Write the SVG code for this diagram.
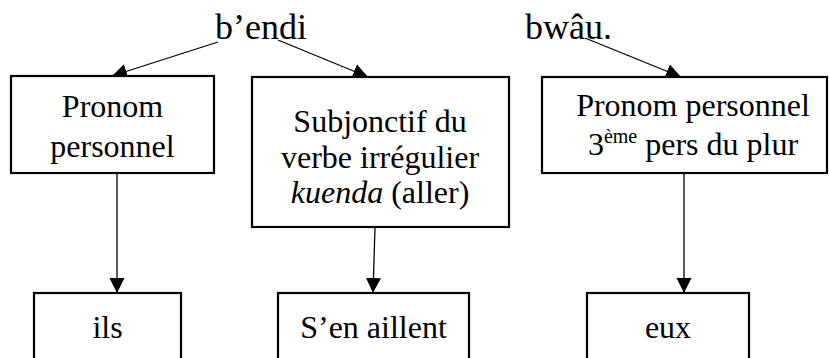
<svg xmlns="http://www.w3.org/2000/svg" width="829" height="358" viewBox="0 0 829 358">
<style>
  .box { fill: #ffffff; stroke: #000000; stroke-width: 2.2; }
  .t { font-family: 'Liberation Serif', 'Times New Roman', serif; font-size: 32px; fill: #000000; text-anchor: middle; }
  .w { font-family: 'Liberation Serif', 'Times New Roman', serif; font-size: 36px; fill: #000000; }
  .c { fill: none; stroke: #000000; stroke-width: 1.3; marker-end: url(#ah); }
</style>
<defs>
  <marker id="ah" markerUnits="userSpaceOnUse" markerWidth="16" markerHeight="16" refX="15" refY="7.5" orient="auto">
    <path d="M0,0 L15,7.5 L0,15 z" fill="#000000"/>
  </marker>
</defs>
<rect width="829" height="358" fill="#ffffff"/>
<g id="words">
  <text class="w" x="215" y="39">b’endi</text>
  <text class="w" x="525" y="39">bwâu.</text>
</g>
<g id="connectors">
  <path class="c" d="M218,42 L112,76"/>
  <path class="c" d="M278,40 L368,77"/>
  <path class="c" d="M585,38 L681,77"/>
  <path class="c" d="M117,174 L117,293"/>
  <path class="c" d="M375,228 L373,293"/>
  <path class="c" d="M684,174 L684,293"/>
</g>
<g id="node-pronom">
  <rect class="box" x="11" y="76" width="203" height="97"/>
  <text class="t" x="112.5" y="117">Pronom</text>
  <text class="t" x="112.5" y="157">personnel</text>
</g>
<g id="node-subjonctif">
  <rect class="box" x="252" y="77" width="257" height="150"/>
  <text class="t" x="380" y="132">Subjonctif du</text>
  <text class="t" x="380" y="168">verbe irrégulier</text>
  <text class="t" x="380" y="203"><tspan font-style="italic">kuenda</tspan> (aller)</text>
</g>
<g id="node-pronom3">
  <rect class="box" x="542" y="77" width="285" height="96"/>
  <text class="t" x="693" y="116">Pronom personnel</text>
  <text class="t" x="693" y="155">3<tspan font-size="20" dy="-12">ème</tspan><tspan dy="12"> pers du plur</tspan></text>
</g>
<g id="node-ils">
  <rect class="box" x="34" y="293" width="147" height="80"/>
  <text class="t" x="107.5" y="338">ils</text>
</g>
<g id="node-aillent">
  <rect class="box" x="278" y="293" width="191" height="80"/>
  <text class="t" x="373.5" y="338">S’en aillent</text>
</g>
<g id="node-eux">
  <rect class="box" x="587" y="293" width="162" height="80"/>
  <text class="t" x="668" y="338">eux</text>
</g>
</svg>
